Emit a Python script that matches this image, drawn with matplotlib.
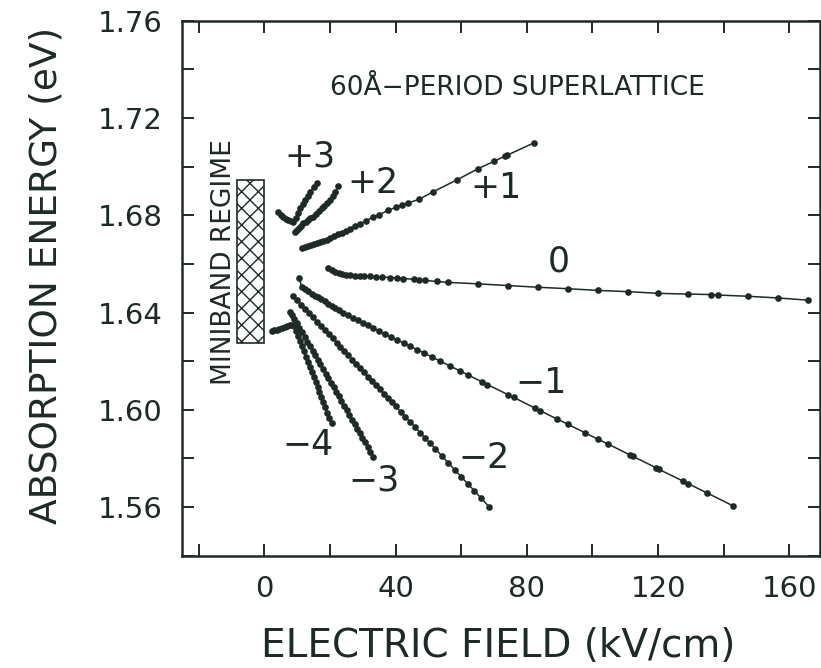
import matplotlib
matplotlib.use("Agg")
import matplotlib.pyplot as plt
from matplotlib.patches import Rectangle
from matplotlib.ticker import MultipleLocator

INK = "#1e2a27"

# field (kV/cm) and absorption energy (eV), one list pair per transition
plus3_x = [4.3, 5.0, 5.7, 6.5, 7.3, 8.0, 8.8, 9.6, 10.3, 10.9, 11.7, 12.4, 13.2, 13.9, 15.0, 16.0]
plus3_y = [1.6815, 1.6803, 1.6793, 1.6786, 1.6780, 1.6777, 1.6773, 1.6790, 1.6810, 1.6829,
           1.6846, 1.6863, 1.6880, 1.6897, 1.6915, 1.6934]

plus2_x = [9.35, 10.0, 10.6, 11.3, 11.9, 12.6, 13.3, 14.0, 14.9, 15.7, 16.6, 17.5, 18.3, 19.1,
           20.0, 20.8, 21.6, 22.5]
plus2_y = [1.6732, 1.6740, 1.6748, 1.6757, 1.6767, 1.6774, 1.6781, 1.6787, 1.6794, 1.6805,
           1.6817, 1.6829, 1.6840, 1.6851, 1.6863, 1.6878, 1.6897, 1.6920]

plus1_x = [11.4, 12.3, 13.2, 14.1, 15.0, 16.0, 17.0, 18.0, 19.0, 20.0, 21.2, 22.4, 23.6, 24.8,
           26.0, 27.5, 29.2, 31.0, 33.0, 35.0, 37.8, 40.0, 41.9, 43.9, 47.2, 51.5, 58.6, 65.2,
           70.0, 73.3, 74.0, 82.2]
plus1_y = [1.6664, 1.6668, 1.6672, 1.6676, 1.6680, 1.6684, 1.6689, 1.6694, 1.6699, 1.6705,
           1.6713, 1.6721, 1.6729, 1.6737, 1.6745, 1.6755, 1.6766, 1.6778, 1.6791, 1.6803,
           1.6820, 1.6833, 1.6843, 1.6851, 1.6866, 1.6897, 1.6945, 1.6992, 1.7022, 1.7043,
           1.7047, 1.7098]

zero_x = [19.5, 20.5, 21.6, 22.7, 23.8, 25.0, 26.2, 27.5, 29.0, 30.5, 32.2, 34.0, 36.0, 38.3,
          40.3, 42.3, 45.5, 47.2, 49.0, 52.5, 56.0, 65.2, 74.3, 83.5, 92.6, 101.7, 110.9,
          120.0, 129.1, 136.2, 138.3, 147.4, 156.6, 165.7]
zero_y = [1.6584, 1.6576, 1.6568, 1.6563, 1.6559, 1.6556, 1.6554, 1.6552, 1.6551, 1.6550,
          1.6549, 1.6547, 1.6546, 1.6544, 1.6542, 1.6540, 1.6537, 1.6535, 1.6532, 1.6528,
          1.6524, 1.6518, 1.6511, 1.6504, 1.6498, 1.6491, 1.6486, 1.6479, 1.6476, 1.6474,
          1.6472, 1.6467, 1.6460, 1.6451]

minus1_x = [10.6, 11.4, 12.4, 13.4, 14.4, 15.4, 16.4, 17.4, 18.4, 19.4, 20.5, 21.6, 22.8, 24.1,
            25.5, 27.0, 28.5, 30.0, 31.6, 33.2, 35.0, 36.8, 38.6, 40.5, 42.5, 44.4, 46.5,
            48.6, 51.0, 53.5, 56.5, 59.6, 62.0, 66.2, 68.0, 74.3, 76.0, 82.5, 84.0, 89.1,
            92.6, 97.7, 101.7, 104.8, 111.4, 112.3, 119.5, 120.3, 127.6, 129.1, 134.8, 142.9]
minus1_y = [1.6541, 1.6506, 1.6496, 1.6487, 1.6478, 1.6470, 1.6462, 1.6454, 1.6446, 1.6437,
            1.6428, 1.6419, 1.6409, 1.6397, 1.6388, 1.6378, 1.6368, 1.6358, 1.6347, 1.6336,
            1.6324, 1.6312, 1.6300, 1.6288, 1.6274, 1.6262, 1.6248, 1.6234, 1.6218, 1.6201,
            1.6181, 1.6160, 1.6144, 1.6116, 1.6104, 1.6062, 1.6051, 1.6007, 1.5997, 1.5963,
            1.5940, 1.5906, 1.5879, 1.5859, 1.5815, 1.5809, 1.5761, 1.5755, 1.5707, 1.5697,
            1.5659, 1.5605]

minus2_x = [8.8, 10.0, 11.2, 12.4, 13.6, 14.8, 16.0, 17.2, 18.4, 19.6, 20.8, 22.0, 23.2, 24.4,
            25.6, 26.8, 28.0, 29.2, 30.4, 31.6, 32.8, 34.0, 35.2, 36.4, 37.6, 38.8, 40.0,
            41.5, 43.0, 44.5, 46.0, 47.5, 49.0, 50.5, 52.0, 54.0, 56.0, 58.0, 60.0, 62.0,
            64.0, 66.0, 68.5]
minus2_y = [1.6468, 1.6451, 1.6433, 1.6416, 1.6398, 1.6381, 1.6363, 1.6346, 1.6329, 1.6311,
            1.6294, 1.6276, 1.6259, 1.6242, 1.6224, 1.6207, 1.6189, 1.6172, 1.6154, 1.6137,
            1.6120, 1.6102, 1.6085, 1.6067, 1.6050, 1.6032, 1.6015, 1.5993, 1.5971, 1.5950,
            1.5928, 1.5906, 1.5884, 1.5863, 1.5841, 1.5812, 1.5783, 1.5754, 1.5725, 1.5696,
            1.5667, 1.5638, 1.5601]

minus3_x = [7.8, 8.4, 9.1, 9.9, 10.7, 11.5, 12.3, 13.1, 13.9, 14.7, 15.5, 16.3, 17.1, 17.9,
            18.7, 19.5, 20.3, 21.1, 21.9, 22.7, 23.5, 24.3, 25.1, 25.9, 26.7, 27.5, 28.3,
            29.1, 29.9, 30.7, 31.5, 32.3, 33.2]
minus3_y = [1.6403, 1.6390, 1.6375, 1.6357, 1.6338, 1.6319, 1.6300, 1.6281, 1.6263, 1.6244,
            1.6225, 1.6206, 1.6187, 1.6168, 1.6149, 1.6130, 1.6111, 1.6093, 1.6074, 1.6055,
            1.6036, 1.6017, 1.5998, 1.5979, 1.5960, 1.5941, 1.5923, 1.5904, 1.5885, 1.5866,
            1.5847, 1.5828, 1.5807]

minus4_x = [2.3, 3.0, 3.8, 4.6, 5.4, 6.2, 7.0, 7.8, 8.5, 9.0, 9.6, 10.2, 10.8, 11.4, 12.0,
            12.6, 13.2, 13.8, 14.4, 15.0, 15.6, 16.2, 16.8, 17.4, 18.0, 18.6, 19.2, 19.8, 20.5]
minus4_y = [1.6325, 1.6327, 1.6330, 1.6333, 1.6337, 1.6341, 1.6345, 1.6349, 1.6350, 1.6345,
            1.6324, 1.6303, 1.6282, 1.6261, 1.6240, 1.6219, 1.6198, 1.6177, 1.6157, 1.6136,
            1.6115, 1.6094, 1.6073, 1.6052, 1.6031, 1.6010, 1.5989, 1.5968, 1.5944]

series = [
    (plus3_x, plus3_y), (plus2_x, plus2_y), (plus1_x, plus1_y), (zero_x, zero_y),
    (minus1_x, minus1_y), (minus2_x, minus2_y), (minus3_x, minus3_y), (minus4_x, minus4_y),
]

# transition labels and where they sit (baseline)
label_text = ["+3", "+2", "+1", "0", "\u22121", "\u22122", "\u22123", "\u22124"]
label_x = [13.9, 33.2, 70.5, 89.8, 84.2, 67.0, 33.5, 13.4]
label_y = [1.7002, 1.6890, 1.6870, 1.6568, 1.6068, 1.5759, 1.5670, 1.5814]

# miniband regime box (field range, energy range)
miniband_x = [-8.4, 0.0]
miniband_y = [1.6276, 1.6945]


fig = plt.figure(figsize=(8.21, 6.68), dpi=100)
ax = fig.add_axes([0.2213, 0.168, 0.7777, 0.801])

for xs, ys in series:
    ax.plot(xs, ys, "-", color=INK, lw=1.1, marker="o", ms=4.8, mew=0, zorder=3)

for txt, tx, ty in zip(label_text, label_x, label_y):
    ax.text(tx, ty, txt, ha="center", va="baseline", fontsize=25, color=INK)

ax.add_patch(Rectangle(
    (miniband_x[0], miniband_y[0]),
    miniband_x[1] - miniband_x[0],
    miniband_y[1] - miniband_y[0],
    facecolor="white", edgecolor=INK, hatch="xx", lw=1.2, zorder=2,
))
ax.text(-12.3, 1.6606, "MINIBAND REGIME", rotation=90, ha="center", va="center",
        fontsize=19, color=INK)
ax.text(77.1, 1.7294, "60Å\u2212PERIOD SUPERLATTICE", ha="center", va="baseline",
        fontsize=19, color=INK)

ax.set_xlim(-25.2, 169.4)
ax.set_ylim(1.54, 1.76)

ax.xaxis.set_major_locator(MultipleLocator(40))
ax.xaxis.set_minor_locator(MultipleLocator(20))
ax.yaxis.set_major_locator(MultipleLocator(0.04))
ax.yaxis.set_minor_locator(MultipleLocator(0.02))
ax.yaxis.set_major_formatter(matplotlib.ticker.FormatStrFormatter("%.2f"))

ax.tick_params(which="both", direction="in", length=8.6, width=1.4, color=INK,
               top=True, right=True)
ax.tick_params(which="major", labelsize=21, labelcolor=INK, pad=13.5)
for spine in ax.spines.values():
    spine.set_linewidth(1.8)
    spine.set_color(INK)

ax.set_xlabel("ELECTRIC FIELD (kV/cm)", fontsize=28, color=INK)
ax.set_ylabel("ABSORPTION ENERGY (eV)", fontsize=27, color=INK)
ax.xaxis.set_label_coords(0.4954, -0.134)
ax.yaxis.set_label_coords(-0.184, 0.5247)

fig.savefig("out.png", dpi=100, facecolor="white")
